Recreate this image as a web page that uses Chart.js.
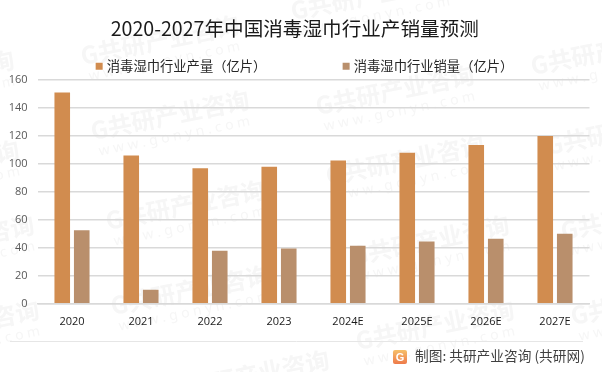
<!DOCTYPE html>
<html>
<head>
<meta charset="utf-8">
<style>
html, body { margin: 0; padding: 0; background: #fff; }
canvas { display: block; }
</style>
<script src="https://cdn.jsdelivr.net/npm/chart.js@4"></script>
</head>
<body>
<canvas id="chart" width="602" height="372"></canvas>
<script>
const years = ["2020", "2021", "2022", "2023", "2024E", "2025E", "2026E", "2027E"];
const output = [151, 106, 97, 98, 102.5, 108, 113.5, 120];
const sales = [52.5, 10, 38, 39.5, 41.5, 44.5, 46.5, 50];
const yTicks = [0, 20, 40, 60, 80, 100, 120, 140, 160];

const cjk = '"Noto Sans CJK SC", sans-serif';
const watermarkSpots = [[-65, 75], [-60, 165], [-45, 240], [-40, 325], [160, 40], [170, 115], [185, 205], [190, 290], [250, 375], [370, -5], [395, 90], [405, 160], [430, 240], [435, 325], [610, 50], [625, 130], [640, 215], [650, 300]];

// faint company watermark behind the chart
const watermark = {
    id: "watermark",
    beforeDraw(chart) {
        const c = chart.ctx;
        c.save();
        c.fillStyle = "#fff";
        c.fillRect(0, 0, chart.width, chart.height);
        c.fillStyle = "#f6f6f6";
        c.textAlign = "center";
        watermarkSpots.forEach(([x, y]) => {
            c.save();
            c.translate(x, y);
            c.rotate(-0.2);
            c.font = "bold 24px " + cjk;
            c.fillText("G共研产业咨询", 0, 0);
            c.font = "14px 'Noto Sans'";
            c.fillText("w w w . g o n y n . c o m", 0, 22);
            c.restore();
        });
        c.restore();
    }
};

// legend uses wide label padding to space its two items, so keep its box short
// and put it where the original has it
const legendPlace = {
    id: "legendPlace",
    beforeLayout(chart) {
        const legend = chart.legend;
        if (!legend.fitWrapped) {
            const fit = legend.fit.bind(legend);
            legend.fit = function () {
                fit();
                this.height = 30.5;
            };
            legend.fitWrapped = true;
        }
    },
    afterLayout(chart) {
        const legend = chart.legend;
        legend.left += 11;
        legend.right += 11;
        legend.top = -19.25;
    }
};

// source line and logo under the chart
const footer = {
    id: "footer",
    afterDraw(chart) {
        const c = chart.ctx;
        c.save();
        c.strokeStyle = "#e6e6e6";
        c.lineWidth = 1;
        c.beginPath();
        c.moveTo(10, 341.5);
        c.lineTo(583, 341.5);
        c.stroke();
        const logo = c.createLinearGradient(393, 350, 393, 364);
        logo.addColorStop(0, "#f6c06a");
        logo.addColorStop(1, "#ee7a4a");
        c.fillStyle = logo;
        c.beginPath();
        c.roundRect(393, 350, 14, 14, 2);
        c.fill();
        c.fillStyle = "#fff";
        c.font = "bold 11px 'Liberation Sans'";
        c.textAlign = "center";
        c.textBaseline = "middle";
        c.fillText("G", 400, 357.5);
        c.fillStyle = "#404040";
        c.font = "13.7px " + cjk;
        c.textAlign = "left";
        c.fillText("制图: 共研产业咨询 (共研网)", 415, 356);
        c.restore();
    }
};

new Chart(document.getElementById("chart"), {
    type: "bar",
    data: {
        labels: years,
        datasets: [
            { label: "消毒湿巾行业产量（亿片）", data: output, backgroundColor: "#d18c4f" },
            { label: "消毒湿巾行业销量（亿片）", data: sales, backgroundColor: "#b98f6c" }
        ]
    },
    options: {
        responsive: false,
        animation: false,
        layout: { padding: { left: 0, right: 12.5, top: 0, bottom: 41 } },
        datasets: { bar: { categoryPercentage: 0.565, barPercentage: 0.8 } },
        plugins: {
            title: {
                display: true,
                text: "2020-2027年中国消毒湿巾行业产销量预测",
                color: "#1a1a1a",
                font: { family: cjk, size: 19.6, weight: "normal" },
                padding: { top: 17, bottom: 9 }
            },
            legend: {
                position: "top",
                labels: {
                    usePointStyle: true,
                    pointStyle: "rect",
                    boxWidth: 2,
                    boxHeight: 7,
                    padding: 78.75,
                    color: "#262626",
                    font: { family: cjk, size: 13.3 }
                }
            },
            tooltip: { enabled: false }
        },
        scales: {
            x: {
                grid: { display: false },
                border: { color: "#d9d9d9", width: 1.5 },
                ticks: { color: "#1a1a1a", font: { family: "'Open Sans'", size: 11 }, padding: 3, maxRotation: 0 }
            },
            y: {
                min: 0,
                max: 160,
                afterFit(scale) { scale.width = 37.5; },
                afterBuildTicks(scale) { scale.ticks = yTicks.map(v => ({ value: v })); },
                grid: { color: "#d9d9d9", lineWidth: 1.5, drawTicks: false },
                border: { display: false },
                ticks: { color: "#595959", font: { family: "'Open Sans'", size: 11 }, padding: 10 }
            }
        }
    },
    plugins: [watermark, legendPlace, footer]
});
</script>
</body>
</html>
